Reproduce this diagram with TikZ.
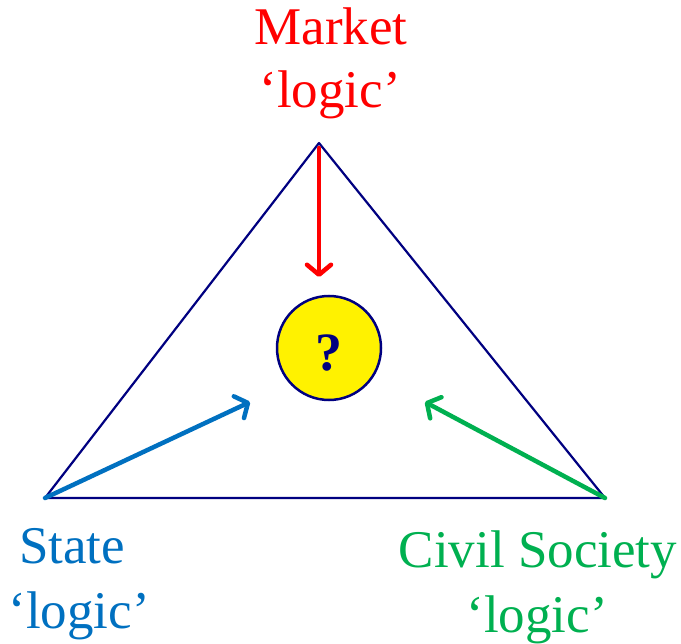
\documentclass[tikz,border=0pt]{standalone}
\usepackage{fontspec}
\setmainfont{Liberation Serif}
\usetikzlibrary{arrows.meta}
\definecolor{navy}{RGB}{0,0,128}
\definecolor{mred}{RGB}{255,0,0}
\definecolor{mblue}{RGB}{0,112,192}
\definecolor{mgreen}{RGB}{0,176,80}
\tikzset{
  lbl/.style={inner sep=0pt, anchor=base, font=\fontsize{53}{62}\selectfont},
  logicarrow/.style={line width=4.5pt, line cap=round, -{Straight Barb[length=10pt,width=24pt,line cap=round,line join=round]}},
}
\begin{document}
\begin{tikzpicture}[x=1pt,y=-1pt]
\useasboundingbox (0,0) rectangle (681,644);
\coordinate (T) at (319,143);
\coordinate (L) at (45,498);
\coordinate (R) at (605,498);
\draw[navy, line width=2.2pt, line join=round] (T) -- (L) -- (R) -- cycle;
\node[circle, draw=navy, line width=2.5pt, fill=yellow, minimum size=104pt, inner sep=0pt] (Q) at (329,348) {};
\node[text=navy, font=\fontsize{54}{58}\selectfont\bfseries, inner sep=0pt] (qm) at (329,353) {?};
\coordinate (rtip) at (319,277);
\coordinate (btip) at (250,402);
\coordinate (gtip) at (425,402);
\coordinate (rstart) at (319,148);
\draw[logicarrow, mred] (rstart) -- (rtip);
\draw[logicarrow, mblue] (L) -- (btip);
\draw[logicarrow, mgreen] (R) -- (gtip);
\node[lbl, text=mred] (m1) at (331,45) {Market};
\node[lbl, text=mred] (m2) at (330,108) {‘logic’};
\node[lbl, text=mblue] (s1) at (72,564) {State};
\node[lbl, text=mblue] (s2) at (79,628) {‘logic’};
\node[lbl, text=mgreen] (c1) at (538,568) {Civil Society};
\node[lbl, text=mgreen] (c2) at (537,632) {‘logic’};
\end{tikzpicture}
\end{document}
